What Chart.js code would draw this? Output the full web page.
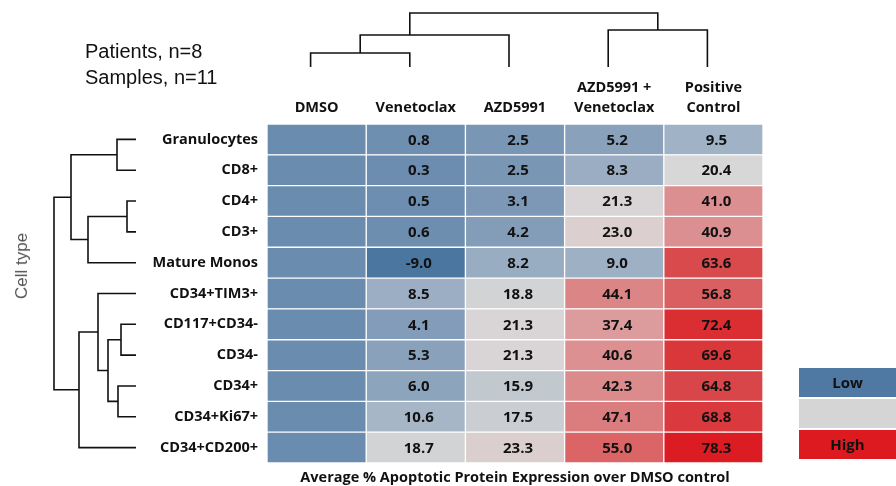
<!DOCTYPE html>
<html>
<head>
<meta charset="utf-8">
<script src="https://cdn.jsdelivr.net/npm/chart.js@4.4.1/dist/chart.umd.min.js"></script>
<style>
  body { margin: 0; background: #fff; }
  #wrap { position: relative; width: 896px; height: 486px; overflow: hidden; }
  canvas { position: absolute; }
  #counts { position: absolute; left: 85px; top: 38px; font: 20px "Liberation Sans", Arial, sans-serif; line-height: 26px; color: #111; }
  #cellType { position: absolute; left: 22px; top: 266px; transform: translate(-50%, -50%) rotate(-90deg);
    font: 17px "Liberation Sans", Arial, sans-serif; color: #555; white-space: nowrap; }
  #legend { position: absolute; left: 799px; top: 368px; width: 97px; }
  #legend div { height: 29px; margin-bottom: 2px; font: bold 15px "Open Sans", sans-serif; color: #111;
    line-height: 29px; text-align: center; }
</style>
</head>
<body>
<div id="wrap">
  <canvas id="heat" width="896" height="486" style="left:0;top:0"></canvas>
  <canvas id="topTree" width="496" height="60" style="left:261px;top:10px"></canvas>
  <canvas id="leftTree" width="88" height="339" style="left:50px;top:124px"></canvas>
  <div id="counts">Patients, n=8<br>Samples, n=11</div>
  <div id="cellType">Cell type</div>
  <div id="legend">
    <div style="background:#4f78a3">Low</div>
    <div style="background:#d5d5d5"></div>
    <div style="background:#dc1a20">High</div>
  </div>
</div>
<script>
// Datos
const cellTypes = ['Granulocytes', 'CD8+', 'CD4+', 'CD3+', 'Mature Monos', 'CD34+TIM3+',
  'CD117+CD34-', 'CD34-', 'CD34+', 'CD34+Ki67+', 'CD34+CD200+'];
const treatments = ['DMSO', 'Venetoclax', 'AZD5991', ['AZD5991 +', 'Venetoclax'], ['Positive', 'Control']];

const dmso = [0, 0, 0, 0, 0, 0, 0, 0, 0, 0, 0];
const venetoclax = [0.8, 0.3, 0.5, 0.6, -9.0, 8.5, 4.1, 5.3, 6.0, 10.6, 18.7];
const azd5991 = [2.5, 2.5, 3.1, 4.2, 8.2, 18.8, 21.3, 21.3, 15.9, 17.5, 23.3];
const azdVen = [5.2, 8.3, 21.3, 23.0, 9.0, 44.1, 37.4, 40.6, 42.3, 47.1, 55.0];
const positiveControl = [9.5, 20.4, 41.0, 40.9, 63.6, 56.8, 72.4, 69.6, 64.8, 68.8, 78.3];

// Dendrogramas: [hijo a, hijo b, altura]
const rowMerges = [[0, 1, 19], [2, 3, 9], [12, 4, 48], [11, 13, 65], [6, 7, 15], [8, 9, 18],
  [15, 16, 28], [5, 17, 38], [18, 10, 57], [14, 19, 82]];
const colMerges = [[0, 1, 14], [5, 2, 32], [3, 4, 37], [6, 7, 54]];

// Escala de color (valor -> rgb)
const colorStops = [
  [-9, [75, 118, 160]], [0, [106, 140, 175]], [5, [136, 160, 187]], [9.5, [160, 178, 197]],
  [16, [194, 200, 206]], [20, [216, 216, 216]], [23, [219, 207, 208]], [41, [220, 143, 144]],
  [55, [218, 100, 102]], [63.6, [217, 74, 77]], [78.3, [220, 28, 34]]
];

function colorFor(v) {
  for (let i = 1; i < colorStops.length; i++) {
    const [v0, c0] = colorStops[i - 1];
    const [v1, c1] = colorStops[i];
    if (v <= v1 || i === colorStops.length - 1) {
      const t = Math.max(0, Math.min(1, (v - v0) / (v1 - v0)));
      const c = c0.map((x, k) => Math.round(x + (c1[k] - x) * t));
      return `rgb(${c.join(',')})`;
    }
  }
}

const series = [dmso, venetoclax, azd5991, azdVen, positiveControl];
const labelFont = { family: 'Open Sans', size: 14.5, weight: 'bold', lineHeight: 1.4 };

// Dibujar los valores dentro de las celdas
const cellValues = {
  id: 'cellValues',
  afterDatasetsDraw(chart) {
    const ctx = chart.ctx;
    ctx.save();
    ctx.font = 'bold 15px "Open Sans"';
    ctx.fillStyle = '#111';
    ctx.textAlign = 'center';
    ctx.textBaseline = 'middle';
    chart.data.datasets.forEach((ds, c) => {
      if (c === 0) return; // DMSO sin números
      chart.getDatasetMeta(c).data.forEach((el, i) => {
        ctx.fillText(ds.values[i].toFixed(1), (el.x + el.base) / 2 + 3, el.y + 1);
      });
    });
    ctx.restore();
  }
};

new Chart(document.getElementById('heat'), {
  type: 'bar',
  data: {
    labels: cellTypes,
    datasets: series.map((vals, c) => ({
      data: vals.map(() => [c, c + 1]),
      values: vals,
      backgroundColor: vals.map(colorFor),
      borderColor: '#ffffff',
      borderWidth: 1,
      borderSkipped: false,
      xAxisID: 'x',
      yAxisID: 'y'
    }))
  },
  options: {
    indexAxis: 'y',
    responsive: false,
    animation: false,
    events: [],
    grouped: false,
    barPercentage: 1,
    categoryPercentage: 1,
    layout: { padding: { left: 140, right: 133, top: 0, bottom: 0 } },
    plugins: { legend: { display: false }, tooltip: { enabled: false } },
    scales: {
      x: { type: 'linear', min: 0, max: 5, display: false },
      xTop: {
        type: 'category', labels: treatments, position: 'top', offset: true,
        grid: { display: false }, border: { display: false },
        ticks: { font: labelFont, color: '#111', padding: -2, maxRotation: 0 },
        afterFit(s) { s.height = 124; }
      },
      xBottom: {
        type: 'category', labels: treatments, position: 'bottom', offset: true,
        grid: { display: false }, border: { display: false },
        ticks: { display: false },
        title: { display: true, text: 'Average % Apoptotic Protein Expression over DMSO control',
          font: { family: 'Open Sans', size: 14.5, weight: 'bold' }, color: '#111', padding: { top: 0, bottom: -1 } },
        afterFit(s) { s.height = 23; }
      },
      y: {
        type: 'category', offset: true,
        grid: { display: false }, border: { display: false },
        ticks: { font: labelFont, color: '#111', padding: 1 },
        afterFit(s) { s.width = 127; }
      }
    }
  },
  plugins: [cellValues]
});

// Coordenadas de los segmentos del dendrograma
function treeSegments(merges, n, byLeaves) {
  const pos = [], height = [], count = [];
  for (let i = 0; i < n; i++) { pos[i] = i + 0.5; height[i] = 0; count[i] = 1; }
  merges.forEach(([a, b, h], k) => {
    const id = n + k;
    count[id] = count[a] + count[b];
    pos[id] = byLeaves ? (pos[a] * count[a] + pos[b] * count[b]) / count[id] : (pos[a] + pos[b]) / 2;
    height[id] = h;
  });
  return merges.map(([a, b, h]) => [[pos[a], height[a]], [pos[a], h], [pos[b], h], [pos[b], height[b]]]);
}

function treeChart(canvasId, segments, horizontal, maxH, n, padding) {
  return new Chart(document.getElementById(canvasId), {
    type: 'scatter',
    data: {
      datasets: segments.map(seg => ({
        data: seg.map(([p, h]) => horizontal ? { x: h, y: p } : { x: p, y: h }),
        showLine: true,
        borderColor: '#111',
        borderWidth: 1.6,
        pointRadius: 0,
        clip: false
      }))
    },
    options: {
      responsive: false,
      animation: false,
      events: [],
      layout: { padding },
      plugins: { legend: { display: false }, tooltip: { enabled: false } },
      scales: horizontal
        ? { x: { type: 'linear', min: 0, max: maxH, reverse: true, display: false },
            y: { type: 'linear', min: 0, max: n, reverse: true, display: false } }
        : { x: { type: 'linear', min: 0, max: n, display: false },
            y: { type: 'linear', min: 0, max: maxH, display: false } }
    }
  });
}

treeChart('topTree', treeSegments(colMerges, treatments.length, true), false, 54, treatments.length,
  { top: 3, bottom: 3, left: 0, right: 0 });
treeChart('leftTree', treeSegments(rowMerges, cellTypes.length, false), true, 82, cellTypes.length,
  { top: 0, bottom: 0, left: 4, right: 2 });
</script>
</body>
</html>
